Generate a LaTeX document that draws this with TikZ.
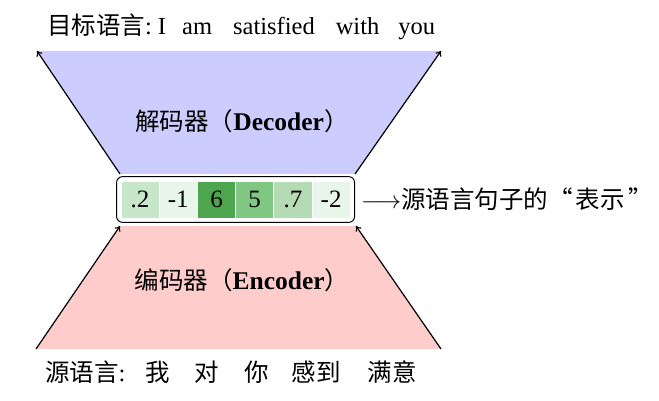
\documentclass[tikz,border=0pt]{standalone}
\usepackage{fontspec}
\setmainfont{Liberation Serif}
\newfontfamily\cjk[Scale=1.0]{Noto Sans CJK SC}
\usetikzlibrary{fit,arrows.meta}
\definecolor{decblue}{RGB}{204,204,255}
\definecolor{encpink}{RGB}{255,204,204}
\definecolor{gA}{RGB}{200,230,201}
\definecolor{gB}{RGB}{232,245,233}
\definecolor{gC}{RGB}{77,166,77}
\definecolor{gD}{RGB}{129,199,132}
\definecolor{gE}{RGB}{180,219,180}
\tikzset{
  txt/.style={inner sep=0pt, font=\fontsize{24.5}{29}\selectfont},
  cell/.style={draw=white, line width=0.8pt, minimum width=38.2pt, minimum height=37pt, inner sep=0pt, font=\fontsize{25}{29}\selectfont},
  edgearrow/.style={line width=1.2pt, -{To[length=5pt,width=7pt]}},
}
\begin{document}
\begin{tikzpicture}[x=1pt,y=-1pt]
\useasboundingbox (0,0) rectangle (659,401);
% corners
\coordinate (dtl) at (37,51);
\coordinate (dtr) at (441,51);
\coordinate (dbl) at (120,174);
\coordinate (dbr) at (355,174);
\coordinate (etl) at (120,226);
\coordinate (etr) at (356,226);
\coordinate (ebl) at (36,349);
\coordinate (ebr) at (441,349);
\fill[decblue] (dtl) -- (dtr) -- (dbr) -- (dbl) -- cycle;
\fill[encpink] (etl) -- (etr) -- (ebr) -- (ebl) -- cycle;
\draw[edgearrow] (dbl) -- (dtl);
\draw[edgearrow] (dbr) -- (dtr);
\draw[edgearrow] (ebl) -- (etl);
\draw[edgearrow] (ebr) -- (etr);
% labels in trapezoids
\node[txt] (dec) at (242,121) {{\cjk 解码器（}{\fontsize{25.5}{29}\selectfont\textbf{Decoder}}{\cjk ）}};
\node[txt] (enc) at (242,280) {{\cjk 编码器（}{\fontsize{25.5}{29}\selectfont\textbf{Encoder}}{\cjk ）}};
% cells
\node[cell, fill=gA] (c1) at (140.1,199.5) {.2};
\node[cell, fill=gB] (c2) at (178.3,199.5) {-1};
\node[cell, fill=gC] (c3) at (216.5,199.5) {6};
\node[cell, fill=gD] (c4) at (254.7,199.5) {5};
\node[cell, fill=gE] (c5) at (292.9,199.5) {.7};
\node[cell, fill=gB] (c6) at (331.1,199.5) {-2};
\node[draw, line width=1pt, rounded corners=6pt, inner sep=4pt, fit=(c1)(c6)] (box) {};
\node[txt, anchor=west] (rep) at (361,199) {$\longrightarrow${\cjk 源语言句子的“\hspace{3pt}表示\hspace{4pt}”}};
% top and bottom sentences
\node[txt, anchor=base west] (tgt) at (47,35) {{\cjk 目标语言}:\hspace{6pt}I\hspace{16pt}am\hspace{21pt}satisfied\hspace{21pt}with\hspace{19pt}you};
\node[txt, anchor=base west] (src) at (45,381) {{\cjk 源语言}:\hspace{20pt}{\cjk 我}\hspace{25pt}{\cjk 对}\hspace{25pt}{\cjk 你}\hspace{23pt}{\cjk 感到}\hspace{27pt}{\cjk 满意}};
\end{tikzpicture}
\end{document}
